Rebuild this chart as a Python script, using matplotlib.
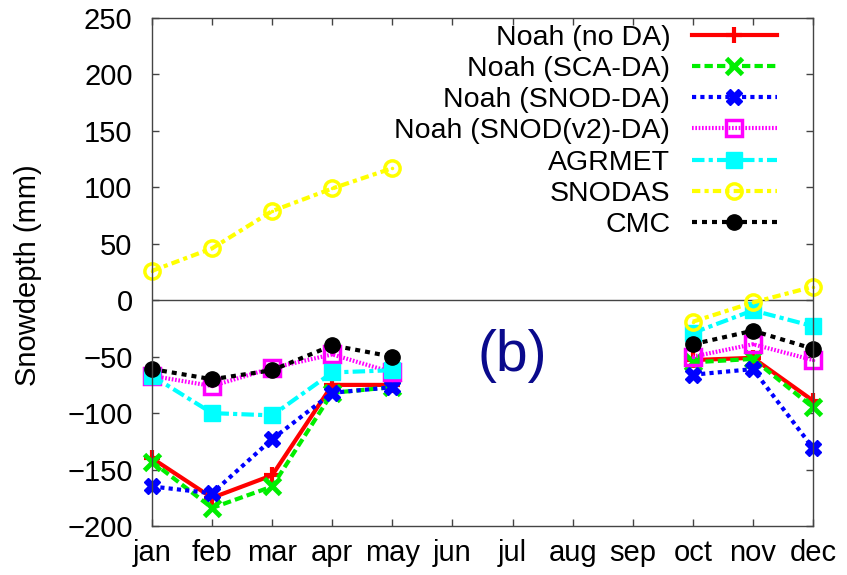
import numpy as np
import matplotlib
matplotlib.use('Agg')
import matplotlib.pyplot as plt

plt.rcParams['font.family'] = ['Liberation Sans', 'DejaVu Sans']

months = ['jan', 'feb', 'mar', 'apr', 'may', 'jun',
          'jul', 'aug', 'sep', 'oct', 'nov', 'dec']
nan = np.nan

noah_noda = [-140, -175, -155, -75, -75, nan, nan, nan, nan, -53, -51, -89]
noah_sca = [-143, -184, -165, -82, -77, nan, nan, nan, nan, -55, -52, -95]
noah_snod = [-165, -171, -123, -82, -77, nan, nan, nan, nan, -66, -61, -131]
noah_snod_v2 = [-67, -76, -60, -48, -64, nan, nan, nan, nan, -50, -39, -53]
agrmet = [-67, -100, -102, -64, -62, nan, nan, nan, nan, -29, -9, -23]
snodas = [26, 46, 79, 99, 117, nan, nan, nan, nan, -19, -2, 12]
cmc = [-61, -70, -62, -40, -50, nan, nan, nan, nan, -39, -27, -43]

x = np.arange(1, 13)

fig = plt.figure(figsize=(8.47, 5.75), dpi=100)
ax = fig.add_axes([0.1795, 0.0852, 0.7804, 0.8835])

ax.axhline(0, color='#444444', lw=1.0, zorder=1)

common = dict(clip_on=False, markersize=11)
ax.plot(x, noah_noda, color='red', lw=3, ls='-', marker='+', mew=3,
        label='Noah (no DA)', **common)
ax.plot(x, noah_sca, color='#00ee00', lw=3, ls=(0, (2, 1)), marker='x', mew=3.5,
        label='Noah (SCA-DA)', **common)
ax.plot(x, noah_snod, color='blue', lw=3, ls=(0, (1, 1)), marker='X', mew=1,
        label='Noah (SNOD-DA)', **common)
ax.plot(x, noah_snod_v2, color='magenta', lw=3, ls=(0, (0.4, 0.4)), marker='s',
        mfc='none', mew=2.5, label='Noah (SNOD(v2)-DA)', **common)
ax.plot(x, noah_snod_v2, color='magenta', lw=0, marker='.', markersize=3,
        clip_on=False)
ax.plot(x, agrmet, color='cyan', lw=3, ls=(0, (3, 1, 1, 1)), marker='s',
        label='AGRMET', **common)
ax.plot(x, snodas, color='yellow', lw=3, ls=(0, (2, 1, 1, 1)), marker='o',
        mfc='none', mew=2.5, label='SNODAS', **common)
ax.plot(x, snodas, color='yellow', lw=0, marker='.', markersize=3,
        clip_on=False)
ax.plot(x, cmc, color='black', lw=3, ls=(0, (1.2, 1.2)), marker='o',
        label='CMC', **common)

ax.set_xlim(1, 12)
ax.set_ylim(-200, 250)
ax.set_yticks(np.arange(-200, 251, 50))
ax.set_xticks(x)
ax.set_xticklabels(months)
ax.tick_params(direction='in', length=5, width=1, color='#444444',
               top=True, right=True, labelsize=21)
ax.tick_params(axis='x', pad=9)
ax.tick_params(axis='y', pad=14)
for s in ax.spines.values():
    s.set_color('#444444')
    s.set_linewidth(1)

ax.set_ylabel('Snowdepth (mm)', fontsize=21)
ax.yaxis.set_label_coords(-0.166, 0.494)

ax.text(0.545, 0.335, '(b)', transform=ax.transAxes, fontsize=41,
        color='#0a0a8c', ha='center', va='center')

ax.legend(loc='upper right', bbox_to_anchor=(777 / 847, 1 - 25 / 575),
          bbox_transform=fig.transFigure, frameon=False,
          markerfirst=False, fontsize=20.5, handlelength=3.0,
          labelspacing=0.18, handletextpad=0.75, borderaxespad=0,
          borderpad=0)

fig.savefig('out.png', dpi=100)
